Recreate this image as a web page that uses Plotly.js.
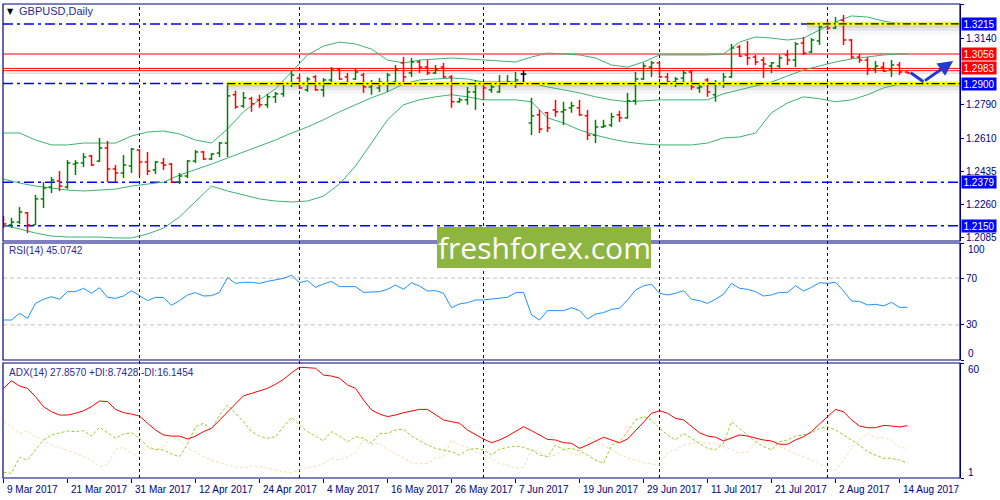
<!DOCTYPE html>
<html><head><meta charset="utf-8">
<script src="https://cdn.plot.ly/plotly-3.0.1.min.js"></script>
<style>html,body{margin:0;padding:0;background:#fff}#chart{width:1000px;height:500px}</style>
</head><body><div id="chart"></div>
<script>
// ---------------- DATA ----------------
const chartTitle = 'GBPUSD,Daily';
const rsiTitle = 'RSI(14) 45.0742';
const adxTitle = 'ADX(14) 27.8570 +DI:8.7428 -DI:16.1454';
const watermark = 'freshforex.com';

const tickBars = [0,8,16,24,32,40,48,56,64,72,80,88,96,104,112];
const tickLabels = ['9 Mar 2017','21 Mar 2017','31 Mar 2017','12 Apr 2017','24 Apr 2017','4 May 2017','16 May 2017','26 May 2017','7 Jun 2017','19 Jun 2017','29 Jun 2017','11 Jul 2017','21 Jul 2017','2 Aug 2017','14 Aug 2017'];
const monthStartBars = [17,37,60,82,103];

const open = [
1.2175,1.2154,1.2169,1.2217,1.2154,1.2291,1.2354,1.2386,1.2354,1.2475,
1.2481,1.2518,1.2491,1.2560,1.2449,1.2428,1.2465,1.2549,1.2486,1.2444,
1.2481,1.2475,1.2380,1.2412,1.2491,1.2539,1.2502,1.2533,1.2586,1.2841,
1.2781,1.2820,1.2814,1.2788,1.2830,1.2846,1.2898,1.2929,1.2867,1.2935,
1.2867,1.2919,1.2977,1.2935,1.2924,1.2945,1.2882,1.2877,1.2898,1.2908,
1.3009,1.2956,1.3014,1.2987,1.2956,1.2987,1.2935,1.2804,1.2814,1.2856,
1.2903,1.2867,1.2856,1.2903,1.2898,1.2950,1.2692,1.2735,1.2746,1.2761,
1.2751,1.2772,1.2772,1.2730,1.2628,1.2671,1.2681,1.2735,1.2719,1.2809,
1.2924,1.2987,1.3009,1.2935,1.2908,1.2929,1.2961,1.2877,1.2919,1.2841,
1.2903,1.2935,1.3093,1.3051,1.3040,1.3024,1.2993,1.2993,1.3051,1.3024,
1.3114,1.3067,1.3125,1.3214,1.3193,1.3235,1.3130,1.3040,1.3024,1.2977,
1.2987,1.2972,1.2998,1.2961];
const high = [
1.2201,1.2191,1.2248,1.2222,1.2312,1.2380,1.2407,1.2438,1.2496,1.2496,
1.2533,1.2523,1.2613,1.2597,1.2470,1.2523,1.2560,1.2554,1.2539,1.2491,
1.2507,1.2481,1.2428,1.2496,1.2549,1.2544,1.2533,1.2591,1.2903,1.2862,
1.2856,1.2830,1.2841,1.2846,1.2856,1.2908,1.2966,1.2945,1.2935,1.2945,
1.2929,1.2987,1.2982,1.2956,1.2982,1.2956,1.2919,1.2929,1.2956,1.2998,
1.3040,1.3035,1.3024,1.3024,1.2998,1.3009,1.2945,1.2825,1.2882,1.2919,
1.2908,1.2893,1.2945,1.2945,1.2961,1.2972,1.2825,1.2761,1.2751,1.2814,
1.2804,1.2804,1.2814,1.2761,1.2709,1.2709,1.2746,1.2756,1.2851,1.2961,
1.3009,1.3019,1.3014,1.2956,1.2935,1.2972,1.2972,1.2893,1.2929,1.2919,
1.2956,1.3109,1.3104,1.3125,1.3051,1.3040,1.3014,1.3051,1.3077,1.3119,
1.3146,1.3140,1.3209,1.3230,1.3251,1.3262,1.3135,1.3056,1.3040,1.3019,
1.3014,1.3024,1.3014,1.2964];
const low = [
1.2138,1.2138,1.2159,1.2111,1.2154,1.2243,1.2322,1.2333,1.2343,1.2417,
1.2459,1.2465,1.2486,1.2380,1.2380,1.2401,1.2428,1.2412,1.2417,1.2423,
1.2444,1.2375,1.2370,1.2401,1.2481,1.2496,1.2496,1.2512,1.2512,1.2767,
1.2772,1.2751,1.2772,1.2772,1.2798,1.2830,1.2882,1.2872,1.2856,1.2862,
1.2830,1.2903,1.2919,1.2893,1.2919,1.2851,1.2841,1.2856,1.2856,1.2903,
1.2893,1.2935,1.2956,1.2945,1.2950,1.2929,1.2772,1.2798,1.2788,1.2761,
1.2814,1.2851,1.2851,1.2893,1.2877,1.2903,1.2628,1.2639,1.2644,1.2725,
1.2681,1.2746,1.2730,1.2602,1.2586,1.2666,1.2671,1.2697,1.2714,1.2788,
1.2919,1.2935,1.2929,1.2903,1.2882,1.2893,1.2867,1.2851,1.2830,1.2804,
1.2877,1.2929,1.3040,1.2998,1.2998,1.2929,1.2956,1.2982,1.2998,1.2987,
1.3051,1.3061,1.3104,1.3183,1.3188,1.3104,1.3030,1.3009,1.2945,1.2956,
1.2961,1.2935,1.2945,1.2953];
const close = [
1.2159,1.2169,1.2222,1.2154,1.2291,1.2349,1.2391,1.2359,1.2481,1.2481,
1.2512,1.2470,1.2560,1.2449,1.2428,1.2470,1.2554,1.2486,1.2438,1.2486,
1.2470,1.2380,1.2412,1.2491,1.2539,1.2502,1.2528,1.2586,1.2835,1.2777,
1.2825,1.2793,1.2788,1.2830,1.2846,1.2898,1.2945,1.2877,1.2924,1.2867,
1.2919,1.2972,1.2924,1.2903,1.2961,1.2882,1.2898,1.2908,1.2945,1.2972,
1.2935,1.3014,1.2987,1.2956,1.2972,1.2935,1.2804,1.2814,1.2856,1.2903,
1.2877,1.2882,1.2903,1.2908,1.2919,1.2950,1.2730,1.2660,1.2666,1.2751,
1.2761,1.2783,1.2735,1.2628,1.2671,1.2676,1.2725,1.2719,1.2809,1.2924,
1.2993,1.3009,1.2935,1.2908,1.2924,1.2956,1.2882,1.2882,1.2856,1.2903,
1.2935,1.3088,1.3045,1.3035,1.3014,1.3003,1.3009,1.3035,1.3024,1.3109,
1.3061,1.3130,1.3199,1.3193,1.3220,1.3130,1.3040,1.3024,1.2977,1.2993,
1.2966,1.2998,1.2961,1.2956];

const bandBars = [0,2,4,6,8,10,12,14,16,18,20,22,24,26,28,30,32,34,36,38,40,42,44,46,48,50,52,54,56,58,60,62,64,66,68,70,72,74,76,78,80,82,84,86,88,90,92,94,96,98,100,102,104,106,108,110,112,113];
const bbUpper = [1.2639,1.2639,1.2602,1.2576,1.2576,1.2586,1.2586,1.2586,1.2623,1.2644,
1.2650,1.2634,1.2602,1.2586,1.2660,1.2751,1.2814,1.2872,1.2961,1.3051,
1.3098,1.3119,1.3109,1.3082,1.3024,1.3009,1.3024,1.3030,1.3035,1.3030,
1.3024,1.3019,1.3014,1.3040,1.3061,1.3056,1.3051,1.3035,1.2998,1.2987,
1.3014,1.3051,1.3051,1.3051,1.3051,1.3056,1.3119,1.3146,1.3140,1.3130,
1.3140,1.3183,1.3225,1.3257,1.3251,1.3230,1.3214,1.3209];
const bbMiddle = [1.2396,1.2375,1.2359,1.2349,1.2338,1.2333,1.2338,1.2343,1.2359,1.2370,
1.2380,1.2417,1.2444,1.2475,1.2507,1.2539,1.2570,1.2602,1.2639,1.2671,
1.2709,1.2751,1.2788,1.2825,1.2856,1.2898,1.2919,1.2924,1.2929,1.2924,
1.2908,1.2908,1.2908,1.2903,1.2882,1.2867,1.2851,1.2830,1.2814,1.2804,
1.2809,1.2814,1.2814,1.2814,1.2814,1.2846,1.2867,1.2888,1.2908,1.2940,
1.2972,1.2993,1.3014,1.3030,1.3040,1.3051,1.3056,1.3056];
const bbLower = [1.2154,1.2132,1.2111,1.2095,1.2090,1.2090,1.2090,1.2085,1.2085,1.2106,
1.2137,1.2196,1.2275,1.2359,1.2333,1.2312,1.2291,1.2280,1.2275,1.2280,
1.2306,1.2370,1.2465,1.2586,1.2709,1.2788,1.2814,1.2830,1.2841,1.2830,
1.2814,1.2814,1.2814,1.2804,1.2719,1.2692,1.2655,1.2628,1.2607,1.2591,
1.2581,1.2576,1.2576,1.2576,1.2586,1.2613,1.2618,1.2639,1.2746,1.2798,
1.2830,1.2820,1.2804,1.2814,1.2841,1.2877,1.2898,1.2903];

const rsi = [34.2,34.2,39.9,35.6,48.4,51.9,54.1,51.9,58.4,58.4,
61.3,57.0,61.8,53.6,52.7,54.7,59.3,54.7,50.7,53.6,
53.3,46.7,50.7,55.6,57.6,54.7,55.0,57.8,70.4,65.5,
66.4,66.4,65.5,67.2,68.4,69.8,72.4,66.1,67.8,62.1,
65.0,67.2,62.7,62.7,62.7,57.8,58.4,58.4,60.4,64.1,
60.4,66.1,63.2,59.0,59.3,57.0,44.7,47.9,49.0,51.3,
51.3,51.9,52.7,53.6,57.5,57.8,38.5,34.2,42.2,42.2,
42.2,44.7,42.2,35.0,39.3,40.5,43.3,44.2,51.3,59.8,
63.5,64.7,57.0,55.6,57.0,59.3,51.9,50.7,48.4,51.9,
56.1,65.5,61.3,60.4,58.4,54.7,55.6,57.8,57.8,63.5,
59.0,62.1,66.1,65.5,66.4,59.0,50.4,50.1,47.0,47.6,
46.2,49.3,45.0,45.07];
const adx = [47.0,50.9,48.2,47.0,42.7,37.6,35.0,33.3,33.3,34.2,
35.5,37.6,40.5,40.2,36.2,34.5,33.8,32.8,29.1,25.6,
23.1,22.5,22.5,21.0,22.5,24.8,26.5,30.8,35.0,39.3,
43.2,44.4,45.6,47.0,49.1,51.6,55.0,57.8,57.6,57.3,
53.8,53.3,52.2,48.7,47.0,41.0,35.9,33.8,32.5,33.3,
34.5,35.5,36.2,36.2,33.3,30.8,29.9,29.1,25.6,23.1,
21.0,19.1,20.5,22.5,24.8,27.3,25.3,23.1,20.8,20.5,
19.1,18.8,16.2,17.9,20.0,21.9,20.5,19.1,21.0,25.1,
29.6,34.2,35.5,34.2,31.6,30.8,27.3,24.2,22.5,21.9,
20.0,21.4,23.1,22.5,21.4,20.5,20.0,18.3,18.3,20.5,
22.2,24.8,28.7,32.5,36.2,35.0,30.8,27.7,26.8,26.8,
28.0,27.7,27.2,27.857];
const plusDI = [3.9,3.4,11.6,10.2,15.4,20.5,23.1,24.2,25.1,24.8,
25.3,22.5,27.0,24.2,21.4,23.6,24.2,21.4,17.1,15.7,
15.4,13.3,11.9,18.4,27.3,29.1,26.0,33.3,38.5,34.2,
29.9,24.8,22.5,21.4,22.2,27.3,32.1,28.2,24.8,22.5,
20.0,24.8,22.5,19.6,22.2,21.4,18.8,23.9,23.9,25.6,
26.0,22.5,20.0,17.9,16.2,15.4,14.5,12.8,15.4,16.2,
15.4,12.8,15.7,16.7,17.4,16.7,15.4,12.8,11.9,17.9,
15.7,16.2,15.0,12.8,10.2,8.5,17.9,19.6,24.8,30.8,
32.5,30.8,26.5,23.1,20.5,23.9,21.4,18.8,16.2,15.4,
18.8,29.9,26.5,23.1,19.6,17.1,15.4,19.6,20.5,22.5,
23.1,24.2,26.5,27.3,25.6,23.1,20.5,17.9,14.5,12.8,
11.1,11.1,10.2,8.7428];
const minusDI = [29.9,27.3,23.9,25.3,22.2,20.5,17.9,16.7,15.0,13.7,
11.9,10.2,6.8,7.7,15.7,16.7,13.7,11.9,16.2,15.4,
17.1,22.2,20.5,16.2,14.5,11.9,10.2,8.9,7.7,6.8,
6.0,7.2,6.8,6.0,5.1,4.2,3.7,5.1,6.5,6.8,
8.5,11.1,10.2,11.9,14.0,20.5,17.9,18.8,15.4,13.7,
11.1,8.9,8.2,8.5,11.1,11.9,20.5,17.9,16.7,14.5,
12.8,11.1,8.5,7.7,6.0,6.5,15.7,14.5,11.9,12.8,
15.7,13.7,12.8,21.9,20.5,17.9,15.4,13.2,11.4,10.2,
8.9,8.2,7.7,14.5,15.4,17.9,18.8,19.1,19.1,18.8,
17.1,15.7,13.7,14.5,19.6,20.8,18.8,17.1,15.4,14.0,
11.9,10.2,8.5,6.0,5.1,10.2,16.2,20.5,23.9,21.4,
21.9,20.5,16.7,16.1454];

const priceTicks = [1.3315,1.3140,1.2790,1.2610,1.2435,1.2260,1.2085];
const blueLevels = [1.3215,1.2900,1.2379,1.2150];
const redLevels = [1.3056,1.2980,1.2968];
const bidLevel = 1.2955;
const zoneLevels = [1.2900,1.3215];
const zoneStartBars = [28,100.4];
const priceBoxes = ['1.3215','1.3056','1.2983','1.2900','1.2379','1.2150'];
const priceBoxColors = ['#0000FF','#FF0000','#FF0000','#0000FF','#0000FF','#0000FF'];
const rsiLevels = [30,70];
const arrowBars = [113.4,115.0,118.7];
const arrowPrices = [1.2957,1.2910,1.3019];

// ---------------- GEOMETRY (pixels) ----------------
const W=1000,H=500,L=3,R=40,T=4,B=22;
const plotH = H-T-B;
const py = y => (H-B-y)/plotH;
const px = x => (x-L)/(W-L-R);
const mainDom=[py(241),1], rsiDom=[py(360),py(243)], adxDom=[0,py(363)];
const NAVY='#000080';

// ---------------- BARS ----------------
const groups = {up:{x:[],y:[],c:'#008000'}, down:{x:[],y:[],c:'#FF0000'}, flat:{x:[],y:[],c:'#000000'}};
const tw = 0.35;
for(let i=0;i<open.length;i++){
  const g = close[i]>open[i]?groups.up:(close[i]<open[i]?groups.down:groups.flat);
  g.x.push(i,i,null,i-tw,i,null,i,i+tw,null);
  g.y.push(low[i],high[i],null,open[i],open[i],null,close[i],close[i],null);
}
const idx = open.map((_,i)=>i);
const traces = [];
const bandStyle = {color:'#3CB371',width:1};
traces.push({x:bandBars,y:bbUpper,mode:'lines',line:bandStyle,hoverinfo:'skip'});
traces.push({x:bandBars,y:bbMiddle,mode:'lines',line:bandStyle,hoverinfo:'skip'});
traces.push({x:bandBars,y:bbLower,mode:'lines',line:bandStyle,hoverinfo:'skip'});
for(const k of ['up','down','flat']){
  const g=groups[k];
  traces.push({x:g.x,y:g.y,mode:'lines',line:{color:g.c,width:1.5},connectgaps:false,hoverinfo:'skip'});
}
traces.push({x:idx,y:rsi,yaxis:'y2',mode:'lines',line:{color:'#1E90FF',width:1},hoverinfo:'skip'});
traces.push({x:idx,y:minusDI,yaxis:'y3',mode:'lines',line:{color:'#F5DEB3',width:1,dash:'3px,2px'},hoverinfo:'skip'});
traces.push({x:idx,y:plusDI,yaxis:'y3',mode:'lines',line:{color:'#9ACD32',width:1,dash:'3px,2px'},hoverinfo:'skip'});
traces.push({x:idx,y:adx,yaxis:'y3',mode:'lines',line:{color:'#FF0000',width:1},hoverinfo:'skip'});

// ---------------- SHAPES ----------------
const shapes = [];
for(const b of monthStartBars){
  shapes.push({type:'line',xref:'x',yref:'paper',x0:b,x1:b,y0:0,y1:1,layer:'below',line:{color:NAVY,width:1,dash:'3px,3px'}});
}
for(const v of rsiLevels){
  shapes.push({type:'line',xref:'paper',yref:'y2',x0:0,x1:1,y0:v,y1:v,layer:'below',line:{color:'#C0C0C0',width:1,dash:'4px,3px'}});
}
shapes.push({type:'line',xref:'paper',yref:'y',x0:0,x1:1,y0:bidLevel,y1:bidLevel,layer:'below',line:{color:'#D0D0D0',width:1}});
for(const v of redLevels){
  shapes.push({type:'line',xref:'paper',yref:'y',x0:0,x1:1,y0:v,y1:v,layer:'below',line:{color:'#FF0000',width:1}});
}
for(const v of blueLevels){
  shapes.push({type:'line',xref:'paper',yref:'y',x0:0,x1:1,y0:v,y1:v,layer:'below',line:{color:'#0000FF',width:1.5,dash:'10px,4px,3px,4px'}});
}
zoneLevels.forEach((v,k)=>{
  const x0=zoneStartBars[k];
  [[14,0.035,-0.0018],[9,0.06,-0.0012],[5,0.08,-0.0006]].forEach(s=>{
    shapes.push({type:'line',xref:'x',yref:'y',x0:x0,x1:119.6,y0:v+s[2],y1:v+s[2],layer:'below',line:{color:'rgba(0,0,0,'+s[1]+')',width:s[0]}});
  });
  shapes.push({type:'line',xref:'x',yref:'y',x0:x0,x1:119.6,y0:v,y1:v,line:{color:'#FFFF00',width:3}});
  shapes.push({type:'line',xref:'x',yref:'y',x0:x0,x1:119.6,y0:v,y1:v,line:{color:'#000000',width:1.2,dash:'8px,3px,2px,3px'}});
});
for(const d of [mainDom,rsiDom,adxDom]){
  shapes.push({type:'rect',xref:'paper',yref:'paper',x0:0,x1:1,y0:d[0],y1:d[1],line:{color:NAVY,width:1.2},fillcolor:'rgba(0,0,0,0)'});
}
shapes.push({type:'line',xref:'x',yref:'y',x0:arrowBars[0],y0:arrowPrices[0],x1:arrowBars[1],y1:arrowPrices[1],line:{color:'#2238D8',width:3}});
shapes.push({type:'rect',xref:'paper',yref:'paper',x0:px(437),x1:px(651),y0:py(268),y1:py(227),layer:'above',fillcolor:'#8DB53F',line:{width:0}});

// ---------------- ANNOTATIONS ----------------
const FONT='Liberation Sans, Arial, sans-serif';
const ann = [];
ann.push({xref:'paper',yref:'paper',x:px(5),y:py(11),xanchor:'left',yanchor:'middle',text:'▼',showarrow:false,font:{family:'DejaVu Sans',size:8,color:'#000000'}});
ann.push({xref:'paper',yref:'paper',x:px(17),y:py(11),xanchor:'left',yanchor:'middle',text:chartTitle,showarrow:false,font:{family:FONT,size:11,color:'#2a2a9a'}});
ann.push({xref:'paper',yref:'paper',x:px(7),y:py(251),xanchor:'left',yanchor:'middle',text:rsiTitle,showarrow:false,font:{family:FONT,size:10,color:'#2a2a9a'}});
ann.push({xref:'paper',yref:'paper',x:px(7),y:py(372),xanchor:'left',yanchor:'middle',text:adxTitle,showarrow:false,font:{family:FONT,size:10,color:'#2a2a9a'}});
[['100',249],['0',353],['60',369],['1',472]].forEach(a=>{
  ann.push({xref:'paper',yref:'paper',x:px(966),y:py(a[1]),xanchor:'left',yanchor:'middle',text:a[0],showarrow:false,font:{family:FONT,size:10,color:NAVY}});
});
// date labels, drawn to the right of each tick
tickBars.forEach((b,k)=>{
  ann.push({xref:'x',yref:'paper',x:b,y:py(490),xanchor:'left',yanchor:'middle',xshift:1,text:tickLabels[k],showarrow:false,font:{family:FONT,size:10,color:NAVY}});
});
priceBoxes.forEach((t,k)=>{
  ann.push({xref:'paper',yref:'y',x:px(961),y:parseFloat(t),xanchor:'left',yanchor:'middle',text:t,showarrow:false,
    bgcolor:priceBoxColors[k],width:34,height:12,borderpad:0,font:{family:FONT,size:10,color:'#FFFFFF'}});
});
ann.push({xref:'x',yref:'y',axref:'x',ayref:'y',x:arrowBars[2],y:arrowPrices[2],ax:arrowBars[1],ay:arrowPrices[1],text:'',showarrow:true,arrowhead:2,arrowsize:1,arrowwidth:3,arrowcolor:'#2238D8'});
ann.push({xref:'paper',yref:'paper',x:px(544),y:py(248),xanchor:'center',yanchor:'middle',text:watermark,showarrow:false,font:{family:'Open Sans, sans-serif',size:30,color:'#FFFFFF'}});

// ---------------- LAYOUT ----------------
const axFont = {family:FONT,size:10,color:NAVY};
const layout = {
  width:W,height:H,margin:{l:L,r:R,t:T,b:B},paper_bgcolor:'#FFFFFF',plot_bgcolor:'#FFFFFF',showlegend:false,
  font:{family:FONT,size:10,color:NAVY},
  xaxis:{range:[-0.0625,119.5625],anchor:'y3',showgrid:false,zeroline:false,tickmode:'array',tickvals:tickBars,
    showticklabels:false,ticks:'outside',ticklen:4,tickcolor:NAVY,showline:false},
  yaxis:{domain:mainDom,range:[1.2069,1.3320],side:'right',showgrid:false,zeroline:false,tickmode:'array',tickvals:priceTicks,
    ticktext:priceTicks.map(v=>v.toFixed(4)),ticks:'outside',ticklen:3,tickcolor:NAVY,tickfont:axFont,showline:true,linecolor:NAVY,linewidth:1},
  yaxis2:{domain:rsiDom,range:[0,100],side:'right',showgrid:false,zeroline:false,tickmode:'array',tickvals:[0,30,70,100],ticktext:['','30','70',''],
    ticks:'outside',ticklen:3,tickcolor:NAVY,tickfont:axFont,showline:true,linecolor:NAVY,linewidth:1},
  yaxis3:{domain:adxDom,range:[1,60],side:'right',showgrid:false,zeroline:false,tickmode:'array',tickvals:[1,60],ticktext:['',''],
    ticks:'outside',ticklen:3,tickcolor:NAVY,tickfont:axFont,showline:true,linecolor:NAVY,linewidth:1},
  shapes:shapes,annotations:ann
};
Plotly.newPlot('chart',traces,layout,{displayModeBar:false,staticPlot:true});
</script></body></html>
